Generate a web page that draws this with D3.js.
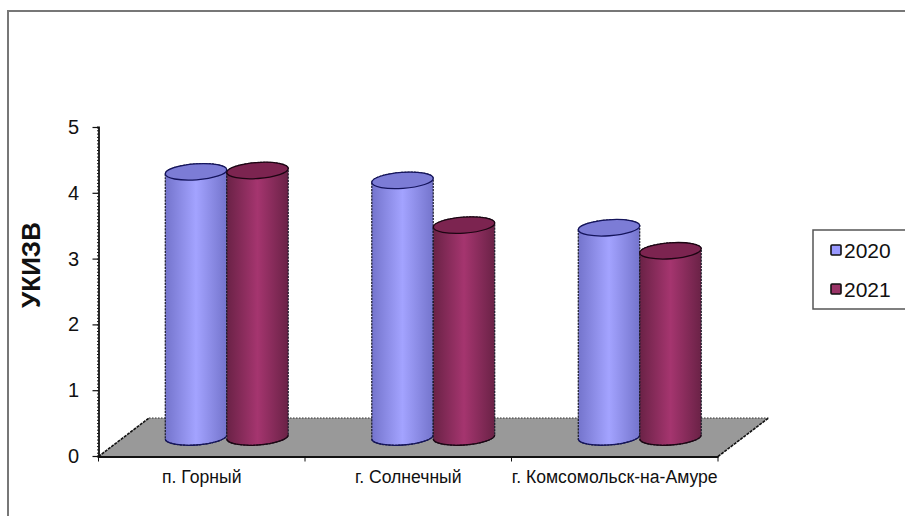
<!DOCTYPE html>
<html>
<head>
<meta charset="utf-8">
<script src="https://cdn.jsdelivr.net/npm/d3@7"></script>
<style>
  html, body { margin: 0; padding: 0; background: #fff; overflow: hidden; }
  svg { display: block; font-family: "Liberation Sans", Arial, sans-serif; }
</style>
</head>
<body>
<svg id="chart" width="905" height="516"></svg>
<script>
// Chart content
const categories = ["п. Горный", "г. Солнечный", "г. Комсомольск-на-Амуре"];
const seriesNames = ["2020", "2021"];
const values2020 = [4.03, 3.9, 3.18];
const values2021 = [4.05, 3.22, 2.83];
const seriesValues = [values2020, values2021];
const valueTicks = [0, 1, 2, 3, 4, 5];
const axisTitle = "УКИЗВ";

// Series palettes: body edge, body centre, top face, outline
const palettes = [
  { edge: "#7474cc", mid: "#a3a3ff", top: "#7c7cd6", line: "#14145c" },
  { edge: "#6a2246", mid: "#a5356f", top: "#7c2450", line: "#1c0512" }
];
const swatchFill = ["#9999ff", "#993366"];

const svg = d3.select("#chart");
const W = 905, H = 516;

// Frame: runs off the right and bottom of the page
svg.append("rect").attr("x", 8).attr("y", 11).attr("width", W).attr("height", H)
  .attr("fill", "#fff").attr("stroke", "#777").attr("stroke-width", 2);

// Scales and the oblique projection of the floor
const axisX = 98.5, axisRight = 718;
const y = d3.scaleLinear().domain([0, 5]).range([456, 127]);
const x = d3.scaleBand().domain(categories).range([axisX, axisRight]);
const depth = { dx: 50.5, dy: -38.5 };        // back edge of the floor relative to the front
const barShift = { dx: 25, dy: -19 };         // cylinders stand at mid depth
const inner = d3.scaleBand().domain(seriesNames).range([-61.5, 61.5]);

const defs = svg.append("defs");
palettes.forEach((p, i) => {
  const g = defs.append("linearGradient").attr("id", "body" + i)
    .attr("x1", 0).attr("x2", 1).attr("y1", 0).attr("y2", 0);
  [[0, p.edge], [0.5, p.mid], [1, p.edge]].forEach(([o, c]) =>
    g.append("stop").attr("offset", o).attr("stop-color", c));
});

// Floor
const y0 = y(0) + 0.5;
const floorPts = [
  [axisX, y0], [axisRight, y0],
  [axisRight + depth.dx, y0 + depth.dy], [axisX + depth.dx, y0 + depth.dy]
];
svg.append("path").attr("d", d3.line()(floorPts) + "Z").attr("fill", "#999");
const edges = [
  { a: floorPts[3], b: floorPts[2], w: 1.2, dash: "1.5 1.5", c: "#333" },
  { a: floorPts[0], b: floorPts[3], w: 1.6, dash: "3 1", c: "#111" },
  { a: floorPts[1], b: floorPts[2], w: 1.6, dash: "3 1", c: "#111" }
];
svg.append("g").selectAll("line").data(edges).join("line")
  .attr("x1", d => d.a[0]).attr("y1", d => d.a[1])
  .attr("x2", d => d.b[0]).attr("y2", d => d.b[1])
  .attr("stroke", d => d.c).attr("stroke-width", d => d.w)
  .attr("stroke-dasharray", d => d.dash);

// Value axis with dense minor ticks
const minor = d3.range(0, 5.001, 0.05);
const minorAxis = d3.axisLeft(y).tickValues(minor).tickSize(1.5).tickFormat("");
const gMinor = svg.append("g").attr("transform", `translate(${axisX},0)`).call(minorAxis);
gMinor.selectAll("line").attr("stroke", "#111");
gMinor.select(".domain").attr("stroke", "#111").attr("stroke-width", 1.8);

const yAxis = d3.axisLeft(y).tickValues(valueTicks).tickSize(6).tickPadding(13.5).tickFormat(d3.format("d"));
const gY = svg.append("g").attr("transform", `translate(${axisX},0)`).call(yAxis);
gY.select(".domain").remove();
gY.selectAll("line").attr("stroke", "#111").attr("stroke-width", 1.2);
gY.selectAll("text").attr("font-size", 20).attr("font-family", "Liberation Sans").attr("fill", "#111");

// Category axis
const xAxis = d3.axisBottom(x).tickSize(0).tickPadding(14);
const gX = svg.append("g").attr("transform", `translate(0,${y0})`).call(xAxis);
gX.select(".domain").attr("stroke", "#111").attr("stroke-width", 2);
gX.selectAll("text").attr("font-size", 17.6).attr("font-family", "Liberation Sans").attr("fill", "#111");
const boundaries = x.domain().map(c => x(c)).concat([axisRight]);
svg.append("g").selectAll("line").data(boundaries).join("line")
  .attr("x1", d => d).attr("x2", d => d).attr("y1", y0).attr("y2", y0 + 5)
  .attr("stroke", "#111").attr("stroke-width", 1);

// Cylinders, drawn back to front within each group
const rx = 30.8, ry = 8, tilt = -4;
const rad = tilt * Math.PI / 180;
const endDx = rx * Math.cos(rad), endDy = rx * Math.sin(rad);
function bodyPath(cx, top, bottom) {
  return `M${cx - endDx},${top - endDy}L${cx - endDx},${bottom - endDy}` +
    `A${rx},${ry} ${tilt} 0 0 ${cx + endDx},${bottom + endDy}` +
    `L${cx + endDx},${top + endDy}` +
    `A${rx},${ry} ${tilt} 0 0 ${cx - endDx},${top - endDy}Z`;
}
function baseArc(cx, bottom) {
  return `M${cx - endDx},${bottom - endDy}A${rx},${ry} ${tilt} 0 0 ${cx + endDx},${bottom + endDy}`;
}
const bars = [];
categories.forEach((c, ci) => seriesNames.forEach((s, si) => {
  bars.push({ c, s, si, v: seriesValues[si][ci] });
}));
const gBars = svg.append("g").selectAll("g").data(bars).join("g");
gBars.each(function (d) {
  const g = d3.select(this);
  const cx = x(d.c) + x.bandwidth() / 2 + barShift.dx + inner(d.s) + inner.bandwidth() / 2;
  const base = y(0) + barShift.dy;
  const top = y(d.v) + barShift.dy;
  const p = palettes[d.si];
  g.append("path").attr("d", bodyPath(cx, top, base))
    .attr("fill", `url(#body${d.si})`)
    .attr("stroke", "#1b1b2a").attr("stroke-width", 1.2).attr("stroke-dasharray", "2.2 1");
  g.append("path").attr("d", baseArc(cx, base))
    .attr("fill", "none").attr("stroke", p.line).attr("stroke-width", 1.3);
  g.append("ellipse").attr("cx", cx).attr("cy", top).attr("rx", rx).attr("ry", ry)
    .attr("transform", `rotate(${tilt} ${cx} ${top})`)
    .attr("fill", p.top).attr("stroke", p.line).attr("stroke-width", 1.3);
});

// Axis title
svg.append("text").attr("transform", "translate(40,265) rotate(-90)")
  .attr("text-anchor", "middle").attr("font-size", 26).attr("font-weight", "bold")
  .attr("fill", "#111").text(axisTitle);

// Legend
const legend = svg.append("g");
legend.append("rect").attr("x", 813).attr("y", 230).attr("width", 110).attr("height", 79)
  .attr("fill", "#fff").attr("stroke", "#555").attr("stroke-width", 1.5);
const rows = d3.scalePoint().domain(seriesNames).range([250, 289]);
const item = legend.selectAll("g").data(seriesNames).join("g")
  .attr("transform", d => `translate(0,${rows(d)})`);
item.append("rect").attr("x", 831).attr("y", -5).attr("width", 10).attr("height", 10).attr("rx", 1)
  .attr("fill", (d, i) => swatchFill[i]).attr("stroke", "#111").attr("stroke-width", 1.6);
item.append("text").attr("x", 844).attr("y", 7.5).attr("font-size", 21)
  .attr("fill", "#111").text(d => d);
</script>
</body>
</html>
